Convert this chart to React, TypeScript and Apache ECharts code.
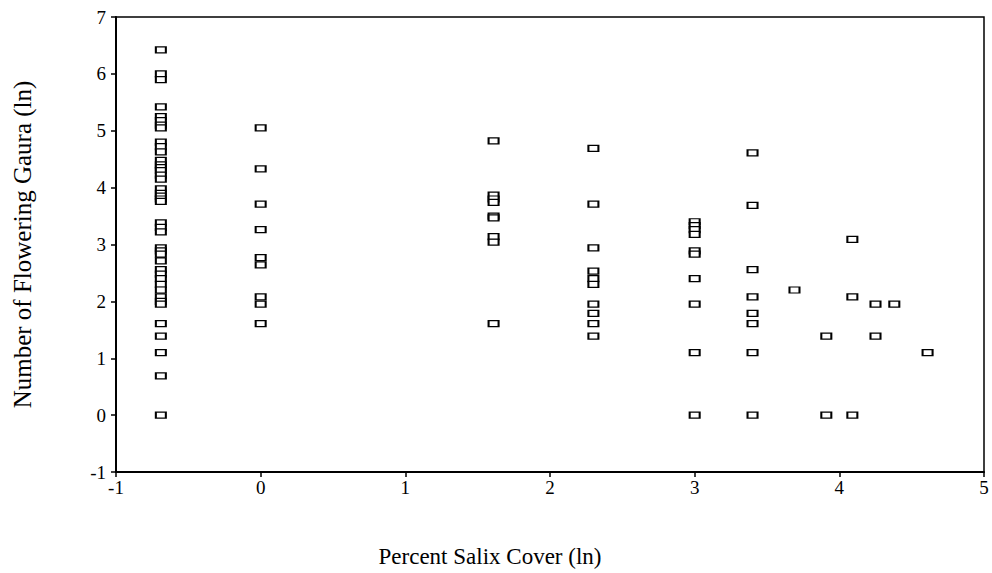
import React, { useEffect, useRef } from "react";
import * as echarts from "echarts";

// x positions (ln of percent cover) and the y values (ln count) at each
const colA_x = -0.69;
const colA_y = [6.42, 6.0, 5.9, 5.42, 5.25, 5.18, 5.1, 5.05, 4.8, 4.72, 4.63, 4.48, 4.4, 4.35, 4.3, 4.22, 4.15, 3.98, 3.9, 3.85, 3.8, 3.76, 3.38, 3.3, 3.22, 2.94, 2.89, 2.83, 2.71, 2.56, 2.48, 2.4, 2.3, 2.2, 2.08, 2.0, 1.95, 1.61, 1.39, 1.1, 0.69, 0];
const colB_x = 0;
const colB_y = [5.05, 4.33, 3.71, 3.26, 2.77, 2.64, 2.08, 1.95, 1.61];
const colC_x = 1.61;
const colC_y = [4.82, 3.87, 3.8, 3.74, 3.5, 3.47, 3.14, 3.04, 1.61];
const colD_x = 2.3;
const colD_y = [4.69, 3.71, 2.94, 2.53, 2.4, 2.3, 1.95, 1.79, 1.61, 1.39];
const colE_x = 3.0;
const colE_y = [3.4, 3.33, 3.26, 3.18, 2.89, 2.83, 2.4, 1.95, 1.1, 0];
const colF_x = 3.4;
const colF_y = [4.61, 3.69, 2.56, 2.08, 1.79, 1.61, 1.1, 0];
const colG_x = 3.69;
const colG_y = [2.2];
const colH_x = 3.91;
const colH_y = [1.39, 0];
const colI_x = 4.09;
const colI_y = [3.09, 2.08, 0];
const colJ_x = 4.25;
const colJ_y = [1.95, 1.39];
const colK_x = 4.38;
const colK_y = [1.95];
const colL_x = 4.61;
const colL_y = [1.1];

const columns: [number, number[]][] = [
  [colA_x, colA_y], [colB_x, colB_y], [colC_x, colC_y], [colD_x, colD_y],
  [colE_x, colE_y], [colF_x, colF_y], [colG_x, colG_y], [colH_x, colH_y],
  [colI_x, colI_y], [colJ_x, colJ_y], [colK_x, colK_y], [colL_x, colL_y],
];

const xAxisName = "Percent Salix Cover (ln)";
const yAxisName = "Number of Flowering Gaura (ln)";

export default function App() {
  const ref = useRef<HTMLDivElement>(null);
  useEffect(() => {
    if (!ref.current) return;
    const chart = echarts.init(ref.current, null, { renderer: "svg" });
    const points: number[][] = [];
    columns.forEach(([x, ys]) => ys.forEach((y) => points.push([x, y])));
    const font = "Liberation Serif";
    chart.setOption({
      animation: false,
      backgroundColor: "#ffffff",
      grid: {
        left: 116, right: 8, top: 17, bottom: 101,
        show: true, borderColor: "#000", borderWidth: 1.5, backgroundColor: "transparent",
      },
      xAxis: {
        type: "value", min: -1, max: 5, interval: 1,
        name: xAxisName, nameLocation: "middle", nameGap: 73,
        nameTextStyle: { fontFamily: font, fontSize: 23, color: "#000", padding: [0, 120, 0, 0] },
        axisLine: { show: true, onZero: false, lineStyle: { color: "#000", width: 2 } },
        axisTick: { show: true, length: 5, lineStyle: { color: "#000", width: 1.5 } },
        axisLabel: { fontFamily: font, fontSize: 19, color: "#000", margin: 6 },
        splitLine: { show: false },
      },
      yAxis: {
        type: "value", min: -1, max: 7, interval: 1,
        name: yAxisName, nameLocation: "middle", nameGap: 81, nameRotate: 90,
        nameTextStyle: { fontFamily: font, fontSize: 25, color: "#000" },
        axisLine: { show: true, onZero: false, lineStyle: { color: "#000", width: 2 } },
        axisTick: { show: true, length: 5, lineStyle: { color: "#000", width: 1.5 } },
        axisLabel: { fontFamily: font, fontSize: 19, color: "#000", margin: 10 },
        splitLine: { show: false },
      },
      series: [
        {
          type: "scatter",
          data: points,
          symbol: "rect",
          symbolSize: [10, 6],
          itemStyle: { color: "#fff", borderColor: "#000", borderWidth: 1.6, opacity: 1 },
        },
      ],
    });
    return () => chart.dispose();
  }, []);
  return <div ref={ref} style={{ width: 992, height: 573, position: "absolute", left: 0, top: 0 }} />;
}
